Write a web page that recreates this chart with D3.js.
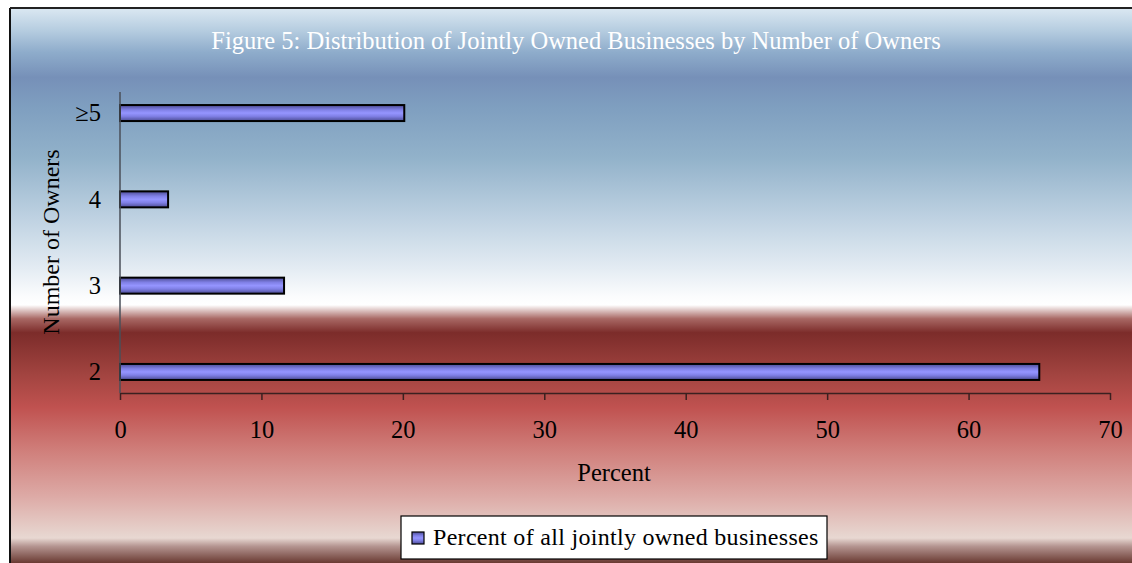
<!DOCTYPE html>
<html>
<head>
<meta charset="utf-8">
<script src="https://cdn.jsdelivr.net/npm/d3@7"></script>
<style>
  html, body { margin: 0; padding: 0; background: #ffffff; }
  svg { display: block; font-family: "Liberation Serif", "Times New Roman", serif; }
</style>
</head>
<body>
<svg id="chart" width="1132" height="563"></svg>
<script>
// Share of jointly owned businesses by number of owners
const categories = ["2", "3", "4", "\u22655"];
const percentValues = [65.0, 11.6, 3.4, 20.1];
const xTicks = [0, 10, 20, 30, 40, 50, 60, 70];
const seriesName = "Percent of all jointly owned businesses";
const chartTitle = "Figure 5: Distribution of Jointly Owned Businesses by Number of Owners";

const W = 1132, H = 563;
const svg = d3.select("#chart");
const defs = svg.append("defs");

// Background banding: light sky, steel blue, white, deep red, pale rose
const bg = defs.append("linearGradient").attr("id", "bgGrad")
  .attr("x1", 0).attr("y1", 0).attr("x2", 0).attr("y2", 1);
[
  [0.00, "#dbe8f2"], [0.04, "#b6cde0"], [0.08, "#8eaccb"], [0.125, "#7690b8"],
  [0.18, "#7f9fc0"], [0.27, "#92b2ca"], [0.38, "#bfd2e2"], [0.47, "#e4ecf3"],
  [0.52, "#fbfcfd"], [0.535, "#ffffff"], [0.56, "#a86864"], [0.585, "#7c2c2a"],
  [0.66, "#a24440"], [0.72, "#c05250"], [0.80, "#d0807c"], [0.88, "#ddaaa6"],
  [0.945, "#e6d2cc"], [0.955, "#e8d8d2"], [0.97, "#b49490"], [1.00, "#6a3a32"]
].forEach(([o, c]) => bg.append("stop").attr("offset", o).attr("stop-color", c));

// Bar fill: darker edges, bright lavender core
const barGrad = defs.append("linearGradient").attr("id", "barGrad")
  .attr("x1", 0).attr("y1", 0).attr("x2", 0).attr("y2", 1);
[
  [0.0, "#4c4c94"], [0.3, "#8080e6"], [0.5, "#9595ff"], [0.7, "#8080e6"], [1.0, "#4c4c94"]
].forEach(([o, c]) => barGrad.append("stop").attr("offset", o).attr("stop-color", c));

// Chart area frame
svg.append("rect").attr("x", 10).attr("y", 8).attr("width", W - 10).attr("height", H - 8)
  .attr("fill", "url(#bgGrad)");
svg.append("line").attr("x1", 10).attr("x2", 10).attr("y1", 8).attr("y2", H)
  .attr("stroke", "#111").attr("stroke-width", 2);
svg.append("line").attr("x1", 10).attr("x2", W).attr("y1", 8).attr("y2", 8)
  .attr("stroke", "#222").attr("stroke-width", 2);

// Plot geometry
const plot = { left: 120, right: 1110, top: 92, bottom: 393 };

const x = d3.scaleLinear().domain([0, 70]).range([plot.left, plot.right]);
const y = d3.scalePoint().domain(categories).range([plot.bottom, plot.top]).padding(0.244);
const barH = 16;
const serif = "Liberation Serif, Times New Roman, serif";

// Title
svg.append("text").attr("x", 576).attr("y", 49).attr("text-anchor", "middle")
  .attr("fill", "#ffffff").attr("font-size", 24.5).text(chartTitle);

// Bars
svg.append("g").selectAll("rect").data(categories).join("rect")
  .attr("x", x(0))
  .attr("y", d => y(d) - barH / 2)
  .attr("width", (d, i) => x(percentValues[i]) - x(0))
  .attr("height", barH)
  .attr("fill", "url(#barGrad)")
  .attr("stroke", "#000").attr("stroke-width", 2);

// X axis
const xAxis = svg.append("g").attr("transform", `translate(0,${plot.bottom})`)
  .call(d3.axisBottom(x).tickValues(xTicks).tickSize(7).tickSizeOuter(0).tickPadding(21));
xAxis.select(".domain").attr("stroke", "#3a2020").attr("stroke-width", 1.5);
xAxis.selectAll(".tick line").attr("stroke", "#3a2020").attr("stroke-width", 1.5);
xAxis.selectAll(".tick text").attr("fill", "#000").attr("font-size", 24.5)
  .attr("font-family", serif);

// Y axis
const yAxis = svg.append("g").attr("transform", `translate(${plot.left},0)`)
  .call(d3.axisLeft(y).tickSize(0).tickPadding(19));
yAxis.select(".domain").attr("d", `M0,${plot.top}V${plot.bottom}`)
  .attr("stroke", "#4a4f58").attr("stroke-width", 1.5);
yAxis.selectAll(".tick text").attr("fill", "#000").attr("font-size", 24.5)
  .attr("font-family", serif);

// Axis titles
svg.append("text").attr("x", 614).attr("y", 481).attr("text-anchor", "middle")
  .attr("font-size", 24.5).attr("fill", "#000").text("Percent");
svg.append("text").attr("transform", "translate(59,242) rotate(-90)")
  .attr("text-anchor", "middle").attr("font-size", 24).attr("fill", "#000")
  .text("Number of Owners");

// Legend
const legend = svg.append("g");
legend.append("rect").attr("x", 401).attr("y", 516).attr("width", 426).attr("height", 43)
  .attr("fill", "#ffffff").attr("stroke", "#000").attr("stroke-width", 1.2);
legend.append("rect").attr("x", 412).attr("y", 532).attr("width", 12).attr("height", 12)
  .attr("fill", "url(#barGrad)").attr("stroke", "#000").attr("stroke-width", 1.2);
legend.append("text").attr("x", 433).attr("y", 545).attr("font-size", 24)
  .attr("letter-spacing", 0.3).attr("fill", "#000").text(seriesName);
</script>
</body>
</html>
